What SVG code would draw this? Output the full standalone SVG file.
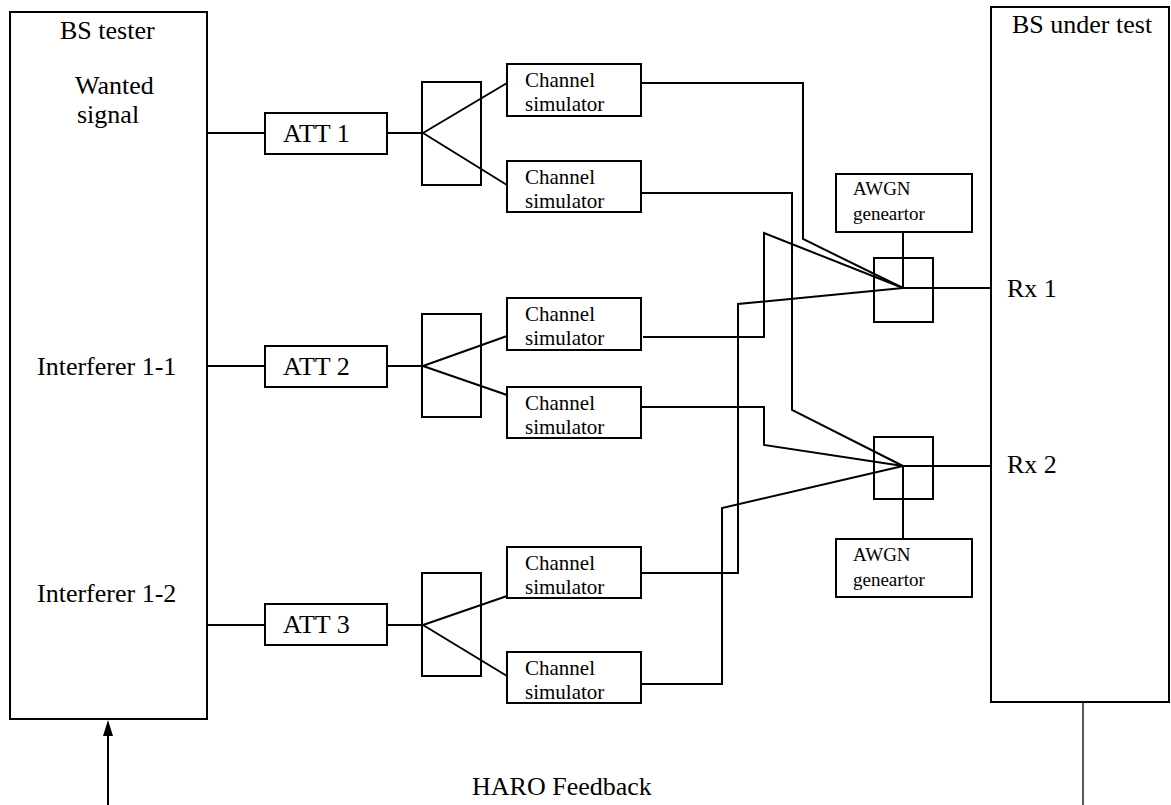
<svg xmlns="http://www.w3.org/2000/svg" width="1171" height="805" viewBox="0 0 1171 805">
<style>
.box{fill:#fff;stroke:#000;stroke-width:2}
.ln{fill:none;stroke:#000;stroke-width:2}
text{font-family:'Liberation Serif','DejaVu Serif',serif;fill:#000}
.t{font-size:26px}
.s{font-size:21px}
.a{font-size:19px}
</style>
<rect width="1171" height="805" fill="#fff"/>
<g id="connectors">
<path class="ln" d="M207,133H265M387,133H423M423,133L507,83M423,133L507,185"/>
<path class="ln" d="M207,366H265M387,366H423M423,366L507,336M423,366L507,395"/>
<path class="ln" d="M207,625H265M387,625H423M423,625L507,596M423,625L507,676"/>
<path class="ln" d="M641,83H803V239L903,288"/>
<path class="ln" d="M641,193H792V410L903,466"/>
<path class="ln" d="M643,337H764V233L903,288"/>
<path class="ln" d="M641,407H764V445L903,466"/>
<path class="ln" d="M641,573H738V304L903,288"/>
<path class="ln" d="M641,684H722V508L903,466"/>
<path class="ln" d="M903,232V288H991M903,466H991M903,466V539"/>
<path d="M108,805V736" fill="none" stroke="#000" stroke-width="2"/>
<path d="M103,736L108,720L113,736Z" fill="#000"/>
<path d="M1083,702V805" fill="none" stroke="#000" stroke-width="1.3"/>
</g>
<g id="bs-tester" font-family="Liberation Serif, serif">
<rect class="box" x="10" y="12" width="197" height="707"/>
<text class="t" x="60" y="39">BS tester</text>
<text class="t" x="75" y="94">Wanted</text>
<text class="t" x="77" y="123">signal</text>
<text class="t" x="37" y="375">Interferer 1-1</text>
<text class="t" x="37" y="602">Interferer 1-2</text>
</g>
<g id="att1"><rect class="box" x="265" y="113" width="122" height="41"/><text class="t" x="283" y="142">ATT 1</text></g>
<g id="att2"><rect class="box" x="265" y="346" width="122" height="41"/><text class="t" x="283" y="375">ATT 2</text></g>
<g id="att3"><rect class="box" x="265" y="604" width="122" height="41"/><text class="t" x="283" y="633">ATT 3</text></g>
<g id="splitter1"><rect class="ln" x="422" y="82" width="59" height="103"/></g>
<g id="splitter2"><rect class="ln" x="422" y="314" width="59" height="103"/></g>
<g id="splitter3"><rect class="ln" x="422" y="573" width="59" height="103"/></g>
<g id="cs1"><rect class="box" x="507" y="64" width="134" height="52"/><text class="s" x="525" y="87">Channel</text><text class="s" x="525" y="111">simulator</text></g>
<g id="cs2"><rect class="box" x="507" y="161" width="134" height="51"/><text class="s" x="525" y="184">Channel</text><text class="s" x="525" y="208">simulator</text></g>
<g id="cs3"><rect class="box" x="507" y="298" width="134" height="52"/><text class="s" x="525" y="321">Channel</text><text class="s" x="525" y="345">simulator</text></g>
<g id="cs4"><rect class="box" x="507" y="387" width="134" height="51"/><text class="s" x="525" y="410">Channel</text><text class="s" x="525" y="434">simulator</text></g>
<g id="cs5"><rect class="box" x="507" y="547" width="134" height="51"/><text class="s" x="525" y="570">Channel</text><text class="s" x="525" y="594">simulator</text></g>
<g id="cs6"><rect class="box" x="507" y="652" width="134" height="51"/><text class="s" x="525" y="675">Channel</text><text class="s" x="525" y="699">simulator</text></g>
<g id="awgn1"><rect class="box" x="836" y="174" width="136" height="58"/><text class="a" x="853" y="195">AWGN</text><text class="a" x="853" y="220">geneartor</text></g>
<g id="awgn2"><rect class="box" x="836" y="539" width="136" height="58"/><text class="a" x="853" y="561">AWGN</text><text class="a" x="853" y="586">geneartor</text></g>
<g id="combiner1"><rect class="ln" x="874" y="258" width="59" height="64"/></g>
<g id="combiner2"><rect class="ln" x="874" y="437" width="59" height="62"/></g>
<g id="bs-under-test">
<rect class="box" x="991" y="7" width="178" height="695"/>
<text class="t" x="1012" y="33">BS under test</text>
<text class="t" x="1007" y="297">Rx 1</text>
<text class="t" x="1007" y="473">Rx 2</text>
</g>
<g id="feedback-label"><text class="t" x="472" y="795">HARO Feedback</text></g>
</svg>
